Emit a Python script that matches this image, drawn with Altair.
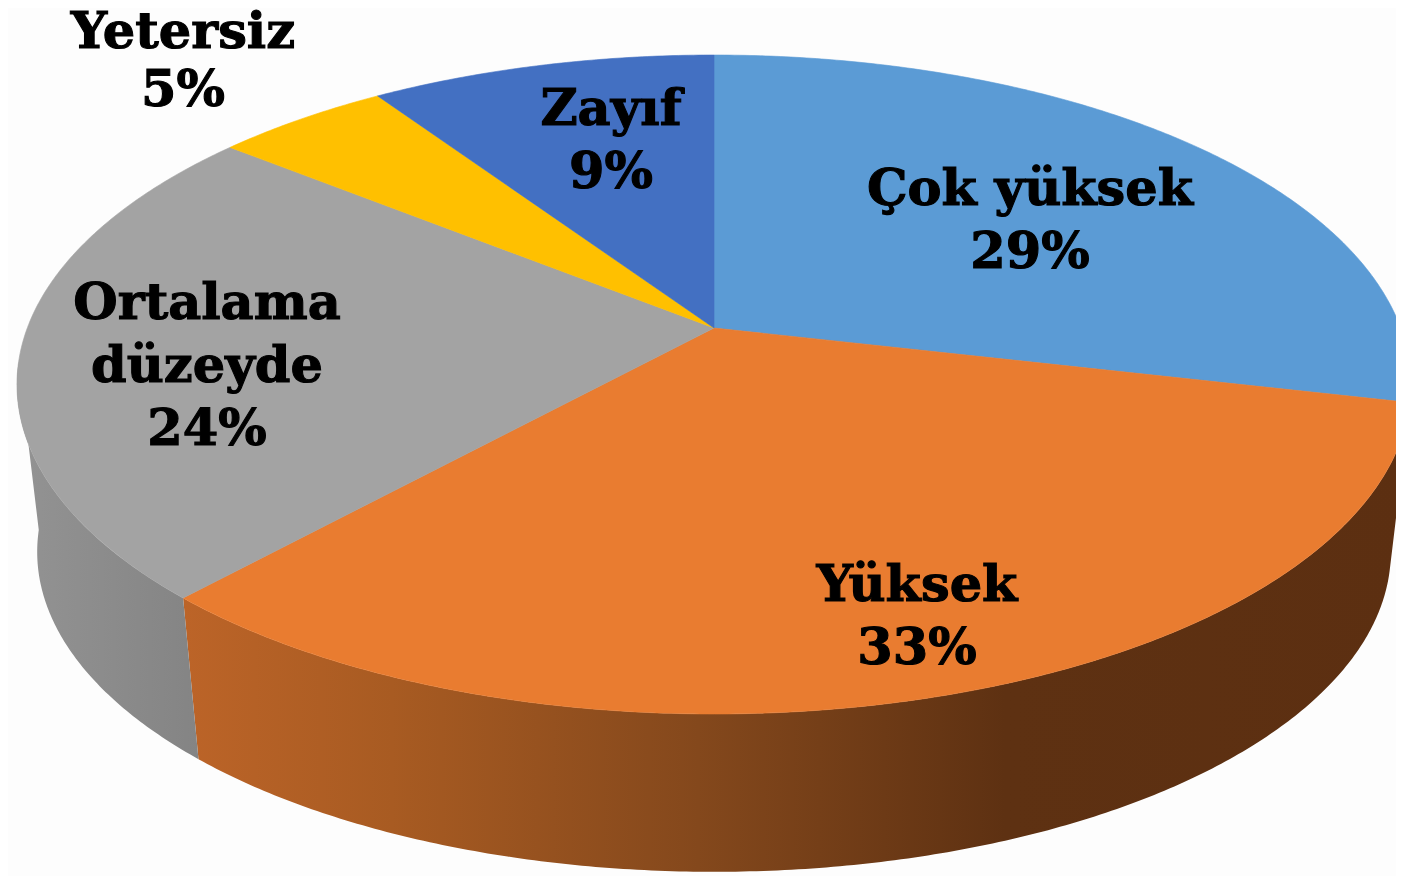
import math
import altair as alt

# Chart values (shares in %, clockwise from 12 o'clock)
categories = ["Çok yüksek", "Yüksek", "Ortalama düzeyde", "Yetersiz", "Zayıf"]
shares = [28.6, 33.2, 23.95, 4.8, 9.45]
percent_labels = ["29%", "33%", "24%", "5%", "9%"]
top_colors = ["#5B9BD5", "#E97C30", "#A3A3A3", "#FFC000", "#4370C2"]

# Text lines for each label
label_lines = [
    ["Çok yüksek", "29%"],
    ["Yüksek", "33%"],
    ["Ortalama", "düzeyde", "24%"],
    ["Yetersiz", "5%"],
    ["Zayıf", "9%"],
]
label_centre_x = [1030, 917, 207, 183, 611]
label_first_baseline = [205, 601, 319, 48, 125]
label_line_step = [63, 63, 63, 58, 63]

# Perspective model of the tilted disc, in page pixels
PAGE = 8
CX, CY = 714, 328
A, B, K = 686.7, 319.8, 0.1715
BOTTOM_SCALE, BOTTOM_CY = 0.971, 497


def rim(theta_deg, scale=1.0, cy=CY):
    t = math.radians(theta_deg)
    u, v = math.sin(t), -math.cos(t)
    d = 1 - K * v
    return [CX + scale * A * u / d - PAGE, cy + scale * B * v / d - PAGE]


def arc(a0, a1, **kw):
    n = max(2, int(abs(a1 - a0) * 2) + 1)
    return [rim(a0 + (a1 - a0) * i / (n - 1), **kw) for i in range(n)]


def feature(ring, **props):
    ring = ring + [ring[0]]
    return {"type": "Feature", "properties": props,
            "geometry": {"type": "Polygon", "coordinates": [ring]}}


edges = [0.0]
for s in shares:
    edges.append(edges[-1] + s * 3.6)

slices = [
    feature([[CX - PAGE, CY - PAGE]] + arc(edges[i], edges[i + 1]), color=top_colors[i], name=categories[i])
    for i in range(len(shares))
]


def wall(a0, a1):
    return feature(arc(a0, a1) + arc(a1, a0, scale=BOTTOM_SCALE, cy=BOTTOM_CY))


orange_wall = alt.Chart(alt.Data(values=[wall(edges[1], edges[2])])).mark_geoshape(
    fill=alt.Gradient(
        gradient="linear", x1=0, x2=1, y1=0, y2=0,
        stops=[
            alt.GradientStop(offset=0, color="#BC6428"),
            alt.GradientStop(offset=0.17, color="#A85B22"),
            alt.GradientStop(offset=0.42, color="#84481C"),
            alt.GradientStop(offset=0.67, color="#5E3112"),
            alt.GradientStop(offset=1, color="#5C2F11"),
        ],
    ),
    stroke=None,
).project(type="identity", scale=1, translate=[0, 0])

grey_wall = alt.Chart(alt.Data(values=[wall(edges[2], 264)])).mark_geoshape(
    fill=alt.Gradient(
        gradient="linear", x1=0, x2=1, y1=0, y2=0,
        stops=[
            alt.GradientStop(offset=0, color="#939393"),
            alt.GradientStop(offset=1, color="#848484"),
        ],
    ),
    stroke=None,
).project(type="identity", scale=1, translate=[0, 0])

top = alt.Chart(alt.Data(values=slices)).mark_geoshape(strokeWidth=0.6).encode(
    fill=alt.Fill("properties.color:N", scale=None),
    stroke=alt.Stroke("properties.color:N", scale=None),
).project(type="identity", scale=1, translate=[0, 0])

rows = []
for lines, cx, y0, step in zip(label_lines, label_centre_x, label_first_baseline, label_line_step):
    for i, line in enumerate(lines):
        rows.append({"line": line, "lon": cx - PAGE, "lat": y0 + i * step - PAGE})

labels = alt.Chart(alt.Data(values=rows)).mark_text(
    font="DejaVu Serif", fontWeight="bold", fontSize=51, color="#000000",
    stroke="#000000", strokeWidth=1.1, align="center", baseline="alphabetic",
).encode(
    longitude="lon:Q", latitude="lat:Q", text="line:N",
).project(type="identity", scale=1, translate=[0, 0])

chart = alt.layer(orange_wall, grey_wall, top, labels).properties(
    width=1388, height=868, padding=0, background="#FDFDFD",
    autosize=alt.AutoSizeParams(type="none"),
).configure_view(stroke=None)

chart.save("out.html", embed_options={"renderer": "svg", "actions": False})
